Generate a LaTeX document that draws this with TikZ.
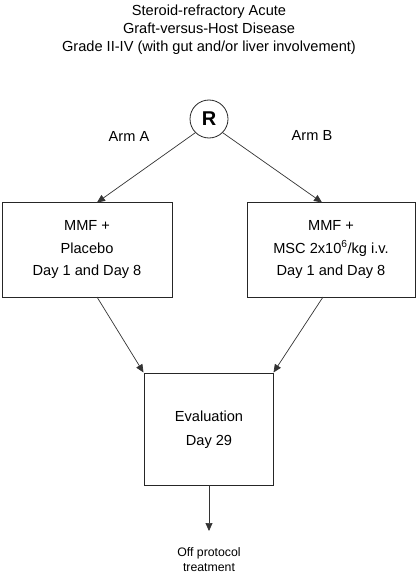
\documentclass[tikz,border=0pt]{standalone}
\usepackage{fontspec}
\setmainfont{Liberation Sans}
\usetikzlibrary{arrows.meta}
\begin{document}
\begin{tikzpicture}[x=1pt,y=-1pt,
  box/.style={draw=black!85,line width=1pt,inner sep=0pt},
  conn/.style={draw=black!80,line width=0.7pt,-{Triangle[length=8pt,width=7pt]}},
  txt/.style={font=\fontsize{14.6}{18}\selectfont,align=center,inner sep=0pt}]
\useasboundingbox (0,0) rectangle (418,578);
\node[txt] (title) at (209,30) {Steroid-refractory Acute\\Graft-versus-Host Disease\\Grade II-IV (with gut and/or liver involvement)};
\node[draw=black!85,line width=0.8pt,circle,minimum size=38pt,inner sep=0pt,font=\fontsize{20}{20}\selectfont\bfseries] (R) at (209,119) {R};
\node[txt] (armA) at (129,136) {Arm A};
\node[txt] (armB) at (312,135) {Arm B};
\node[box,minimum width=170pt,minimum height=95pt] (A) at (87,249.5) {};
\node[txt,font=\fontsize{14.6}{22.5}\selectfont] (Atext) at (A.center) {MMF +\\Placebo\\Day 1 and Day 8};
\node[box,minimum width=168pt,minimum height=95pt] (B) at (331,249.5) {};
\node[txt,font=\fontsize{14.6}{22.5}\selectfont] (Btext) at (B.center) {MMF +\\MSC 2x10\textsuperscript{6}/kg i.v.\\Day 1 and Day 8};
\node[box,minimum width=129pt,minimum height=112pt] (E) at (208.5,429) {};
\node[txt,font=\fontsize{14.6}{24}\selectfont] (Etext) at (209,430) {Evaluation\\Day 29};
\coordinate (Atop) at (97,202.5);
\coordinate (Btop) at (322,202.5);
\coordinate (Abot) at (97,297);
\coordinate (Bbot) at (323,297);
\coordinate (Ebot) at (209,485);
\coordinate (endpt) at (209,531);
\node[txt,font=\fontsize{12.3}{15}\selectfont] (off) at (209,560) {Off protocol\\treatment};
\draw[conn] (R.225) -- (Atop);
\draw[conn] (R.-45) -- (Btop);
\draw[conn] (Abot) -- (E.north west);
\draw[conn] (Bbot) -- (E.north east);
\draw[conn] (Ebot) -- (endpt);
\end{tikzpicture}
\end{document}
